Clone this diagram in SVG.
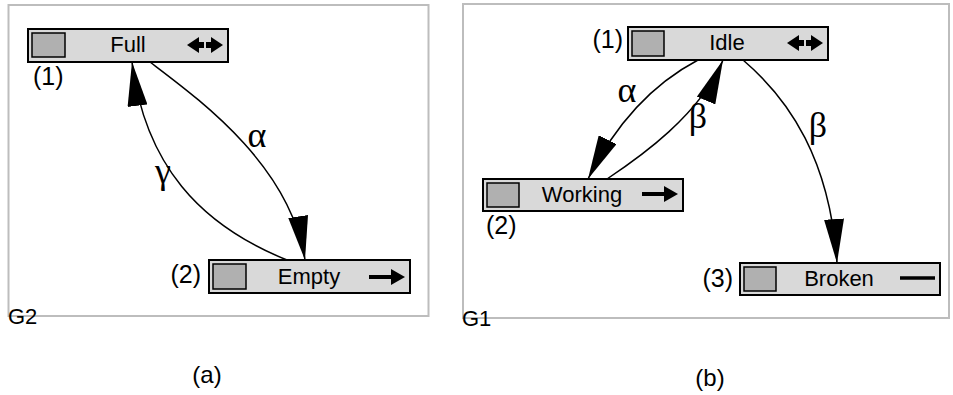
<svg xmlns="http://www.w3.org/2000/svg" xmlns:xlink="http://www.w3.org/1999/xlink" width="953" height="395" viewBox="0 0 953 395">
<style>
.frame{fill:none;stroke:#bdbdbd;stroke-width:2}
.node{fill:#d9d9d9;stroke:#000;stroke-width:2}
.chip{fill:#b0b0b0;stroke:#000;stroke-width:1.5}
.lbl{font-family:"Liberation Sans",Arial,sans-serif;font-size:22px;fill:#000;text-anchor:middle}
.idx{font-family:"Liberation Sans",Arial,sans-serif;font-size:25px;fill:#000}
.g{font-family:"Liberation Sans",Arial,sans-serif;font-size:22px;fill:#000}
.cap{font-family:"Liberation Sans",Arial,sans-serif;font-size:24px;fill:#000;text-anchor:middle}
.greek{font-family:"Liberation Serif","Times New Roman",serif;font-size:36px;fill:#000;text-anchor:middle}
.edge{fill:none;stroke:#000;stroke-width:1.5;marker-end:url(#ah)}
</style>
<defs>
<marker id="ah" markerUnits="userSpaceOnUse" markerWidth="44" markerHeight="20" viewBox="0 0 44 20" refX="44" refY="10" orient="auto">
<path d="M0,0 L44,10 L0,20 z" fill="#000"/>
</marker>
<g id="dbl">
<path d="M-18,0 L-6,-8 L-6,8 z M-6,-3 h5 v6 h-5 z M18,0 L6,-8 L6,8 z M6,-3 h-5 v6 h5 z" fill="#000"/>
</g>
<g id="rarr">
<path d="M-18,-2 H5 V2 H-18 z M4,-8 L18,0 L4,8 z" fill="#000"/>
</g>
</defs>

<rect class="frame" x="8.5" y="5" width="420" height="311"/>
<rect class="frame" x="463" y="4" width="486" height="314"/>
<text class="g" x="8" y="324">G2</text>
<text class="g" x="462" y="326">G1</text>

<g id="connectors">
<path class="edge" d="M150,62 C200,100 290,165 305,260"/>
<path class="edge" d="M287,260 C200,225 145,165 132,62"/>
<path class="edge" d="M698,60 C660,80 620,115 588,179"/>
<path class="edge" d="M607,179 C640,157 700,115 723,60"/>
<path class="edge" d="M743,60 C790,100 830,160 837,263"/>
<text class="greek" x="257" y="147">α</text>
<text class="greek" x="163" y="183">γ</text>
<text class="greek" x="627" y="102">α</text>
<text class="greek" x="698" y="128">β</text>
<text class="greek" x="818" y="137">β</text>
</g>

<g id="full">
<rect class="node" x="28" y="29" width="200" height="33"/>
<rect class="chip" x="32" y="33" width="33" height="24"/>
<text class="lbl" x="128" y="52">Full</text>
<use href="#dbl" xlink:href="#dbl" transform="translate(205,45)"/>
<text class="idx" x="33" y="85">(1)</text>
</g>

<g id="empty">
<rect class="node" x="209" y="260" width="201" height="33"/>
<rect class="chip" x="213" y="264" width="33" height="25"/>
<text class="lbl" x="309" y="284">Empty</text>
<use href="#rarr" xlink:href="#rarr" transform="translate(387,277)"/>
<text class="idx" x="201" y="283" text-anchor="end">(2)</text>
</g>

<g id="idle">
<rect class="node" x="628" y="27" width="200" height="33"/>
<rect class="chip" x="632" y="31" width="32" height="25"/>
<text class="lbl" x="727" y="50">Idle</text>
<use href="#dbl" xlink:href="#dbl" transform="translate(805,43)"/>
<text class="idx" x="623" y="48" text-anchor="end">(1)</text>
</g>

<g id="working">
<rect class="node" x="483" y="179" width="200" height="32"/>
<rect class="chip" x="487" y="183" width="32" height="24"/>
<text class="lbl" x="582" y="202">Working</text>
<use href="#rarr" xlink:href="#rarr" transform="translate(660,194)"/>
<text class="idx" x="486" y="234">(2)</text>
</g>

<g id="broken">
<rect class="node" x="740" y="263" width="200" height="32"/>
<rect class="chip" x="744" y="267" width="32" height="24"/>
<text class="lbl" x="839" y="286">Broken</text>
<line x1="900" y1="278" x2="935" y2="278" stroke="#000" stroke-width="3.5"/>
<text class="idx" x="733" y="287" text-anchor="end">(3)</text>
</g>

<text class="cap" x="207" y="383">(a)</text>
<text class="cap" x="710" y="386">(b)</text>
</svg>
